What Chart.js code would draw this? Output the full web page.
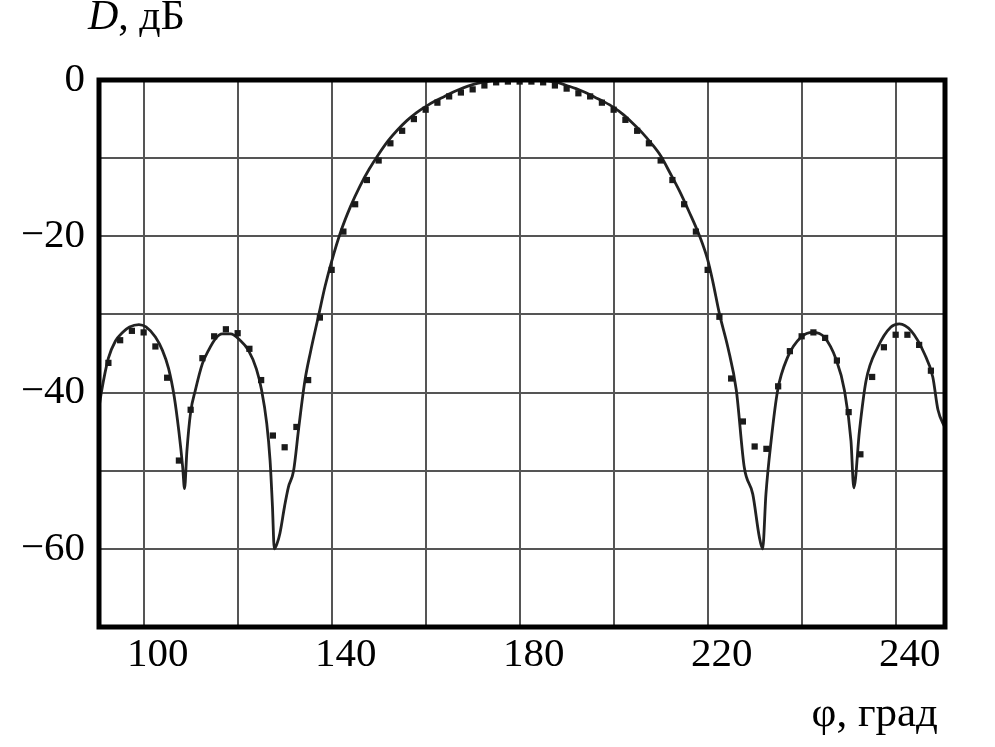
<!DOCTYPE html>
<html>
<head>
<meta charset="utf-8">
<script src="https://cdn.jsdelivr.net/npm/chart.js@4.4.1/dist/chart.umd.min.js"></script>
<style>
  body { margin: 0; background: #fff; }
  canvas { display: block; }
</style>
</head>
<body>
<canvas id="myChart" width="995" height="747"></canvas>
<script>
// solid curve (calculated pattern)
const lineAngles = [90, 91, 92.5, 94, 95.5, 97, 99, 100.5, 102.5, 104, 105.3, 106.5, 107.5, 108.3, 108.7, 109.2, 110, 111, 112.5, 113.8,
  115.3, 116.7, 118.5, 120.5, 122.3, 124, 125.1, 126.2, 126.9, 127.4, 127.8, 128.4, 129, 130, 130.8, 131.9, 133, 134.3, 135.5, 137.2,
  138.6, 140, 142, 144, 146, 148, 150, 152, 154, 156, 158, 160, 162, 164, 166, 168, 170, 172, 174, 176, 180, 184, 186, 188, 190, 192,
  194, 196, 198, 200, 202, 204, 206, 208, 210, 212, 214, 216, 218.3, 220, 221.1, 222.5, 224.3, 226.1, 227.8, 229.6, 231, 231.7, 232.4,
  233.5, 234.9, 237, 239.9, 242.4, 244.8, 247.3, 249.1, 250.5, 251.1, 252.3, 253.7, 256.2, 259, 260.8, 263.3, 266.1, 267.9, 269, 270.5];
const lineLevels = [-44, -40, -35.6, -33.4, -32.3, -31.6, -31.3, -31.6, -32.9, -34.6, -36.9, -40.5, -45, -49.5, -52.3, -47.5, -42.5, -39.7, -36.3, -34.6,
  -33.1, -32.5, -32.5, -33.3, -34.6, -37, -39.7, -44, -48.7, -54.5, -60, -59.3, -58, -54.5, -52.1, -50, -44.5, -38.5, -34.8, -30.2,
  -26.4, -23.2, -19.3, -16.2, -13.6, -11.4, -9.5, -7.8, -6.4, -5.2, -4.2, -3.4, -2.7, -2.1, -1.5, -1.0, -0.6, -0.3, -0.1, 0, 0, 0, -0.1, -0.3, -0.7, -1.1,
  -1.6, -2.2, -2.8, -3.5, -4.4, -5.5, -6.7, -8.1, -9.7, -11.9, -14.2, -16.8, -20, -23, -25.8, -29.9, -34.2, -39.7, -49.6, -53, -58.5, -60, -53,
  -46.2, -39.7, -35.5, -32.9, -32.3, -32.9, -35.7, -39.7, -46.2, -52.2, -44.9, -38.5, -34.2, -31.6, -31.2, -32.1, -35, -38, -42.2, -44.5];

// measured points, every 2.5 degrees
const dotAngles = [92.5, 95, 97.5, 100, 102.5, 105, 107.5, 110, 112.5, 115, 117.5, 120, 122.5, 125, 127.5, 130, 132.5, 135, 137.5,
  140, 142.5, 145, 147.5, 150, 152.5, 155, 157.5, 160, 162.5, 165, 167.5, 170, 172.5, 175, 177.5, 180, 182.5, 185, 187.5,
  190, 192.5, 195, 197.5, 200, 202.5, 205, 207.5, 210, 212.5, 215, 217.5, 220, 222.5, 225, 227.5, 230, 232.5, 235, 237.5,
  240, 242.5, 245, 247.5, 250, 252.5, 255, 257.5, 260, 262.5, 265, 267.5];
const dotLevels = [-36.2, -33.3, -32.1, -32.3, -34.1, -38.1, -48.7, -42.2, -35.6, -32.8, -31.9, -32.4, -34.4, -38.4, -45.5, -47.0, -44.4, -38.4, -30.4,
  -24.3, -19.4, -15.9, -12.8, -10.3, -8.1, -6.5, -5.0, -3.8, -2.9, -2.1, -1.6, -1.2, -0.7, -0.3, -0.2, -0.2, -0.2, -0.3, -0.7,
  -1.1, -1.7, -2.1, -2.9, -3.8, -5.1, -6.5, -8.1, -10.3, -12.8, -15.9, -19.4, -24.3, -30.3, -38.2, -43.7, -46.9, -47.2, -39.2, -34.7,
  -32.8, -32.3, -33.0, -35.9, -42.5, -47.9, -38.0, -34.2, -32.6, -32.6, -33.9, -37.2];

// axes
const xGridAngles = [100, 120, 140, 160, 180, 200, 220, 240, 260];
const xTickLabels = ['100', '', '140', '', '180', '', '220', '', '240'];
const yGridLevels = [0, -10, -20, -30, -40, -50, -60, -70];
const yTickLabels = ['0', '', '\u221220', '', '\u221240', '', '\u221260', ''];

Chart.defaults.font.family = "'Liberation Serif', 'DejaVu Serif', serif";
Chart.defaults.color = '#000';

const framePlugin = {
  id: 'frame',
  afterDatasetsDraw(chart) {
    const a = chart.chartArea, c = chart.ctx;
    c.save();
    c.strokeStyle = '#000';
    c.lineWidth = 5;
    c.strokeRect(a.left, a.top, a.right - a.left, a.bottom - a.top);
    c.restore();
  },
  afterDraw(chart) {
    const c = chart.ctx;
    c.save();
    c.fillStyle = '#000';
    c.textBaseline = 'alphabetic';
    c.font = "italic 42px 'Liberation Serif'";
    c.fillText('D', 88, 29);
    const w = c.measureText('D').width;
    c.font = "42px 'Liberation Serif'";
    c.fillText(', дБ', 88 + w, 29);
    // x axis name
    c.textAlign = 'right';
    c.font = "43px 'Liberation Serif'";
    c.fillText('φ, град', 938, 726);
    c.restore();
  }
};

var ctx = document.getElementById('myChart');
var chart = new Chart(ctx, {
  type: 'scatter',
  data: {
    datasets: [{
      label: 'dots',
      data: dotAngles.map((a, i) => ({x: a, y: dotLevels[i]})),
      showLine: false,
      pointStyle: 'rect',
      pointRadius: 4.4,
      backgroundColor: '#1a1a1a',
      borderWidth: 0,
      order: 0
    }, {
      label: 'curve',
      data: lineAngles.map((a, i) => ({x: a, y: lineLevels[i]})),
      showLine: true,
      borderColor: '#222',
      borderWidth: 2.8,
      pointRadius: 0,
      cubicInterpolationMode: 'monotone',
      order: 1
    }]
  },
  options: {
    responsive: false,
    animation: false,
    layout: { padding: { left: 0, right: 50, top: 80, bottom: 0 } },
    plugins: { legend: { display: false }, tooltip: { enabled: false } },
    scales: {
      x: {
        type: 'linear',
        min: 90.5,
        max: 270.5,
        afterBuildTicks: s => { s.ticks = xGridAngles.map(v => ({value: v})); },
        afterFit: s => { s.height = 120; },
        grid: { color: '#555', lineWidth: 2, drawTicks: false },
        border: { display: false },
        ticks: {
          padding: 4,
          labelOffset: 14,
          maxRotation: 0,
          autoSkip: false,
          font: { size: 41 },
          callback: (v, i) => xTickLabels[i]
        }
      },
      y: {
        min: -70,
        max: 0,
        afterBuildTicks: s => { s.ticks = yGridLevels.map(v => ({value: v})); },
        afterFit: s => { s.width = 99; },
        grid: { color: '#555', lineWidth: 2, drawTicks: false },
        border: { display: false },
        ticks: {
          padding: 14,
          autoSkip: false,
          font: { size: 41 },
          callback: (v, i) => yTickLabels[i]
        }
      }
    }
  },
  plugins: [framePlugin]
});
</script>
</body>
</html>
